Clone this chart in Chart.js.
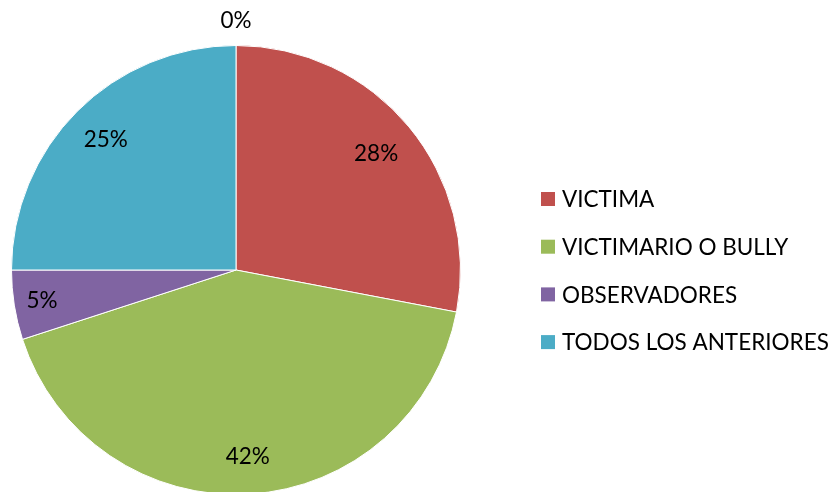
<!DOCTYPE html>
<html lang="es">
<head>
  <meta charset="UTF-8">
  <title>Roles en el bullying</title>
  <style>
    html, body { margin: 0; padding: 0; background: #fff; overflow: hidden; }
    #wrap { width: 830px; height: 500px; }
  </style>
</head>
<body>
<div id="wrap"><canvas id="myChart" width="830" height="500"></canvas></div>

<script src="https://cdn.jsdelivr.net/npm/chart.js"></script>
<script>
  // datos del grafico
  var categorias = ['', 'VICTIMA', 'VICTIMARIO O BULLY', 'OBSERVADORES', 'TODOS LOS ANTERIORES'];
  var porcentajes = [0, 28, 42, 5, 25];
  var colores = ['#4F81BD', '#C0504D', '#9BBB59', '#8064A2', '#4BACC6'];

  var fuente = "Lato, 'Noto Sans', sans-serif";

  // etiquetas de porcentaje sobre cada porcion
  var etiquetasPlugin = {
    id: 'etiquetas',
    afterDatasetsDraw: function(chart) {
      var ctx = chart.ctx;
      var meta = chart.getDatasetMeta(0);
      // distancia al centro (fraccion del radio), como el "mejor ajuste" de Excel
      var dist = [1.11, 0.81, 0.835, 0.875, 0.82];
      ctx.save();
      ctx.fillStyle = '#000';
      ctx.font = '22.5px ' + fuente;
      ctx.textAlign = 'center';
      ctx.textBaseline = 'middle';
      meta.data.forEach(function(arc, i) {
        var v = porcentajes[i];
        var p = arc.getProps(['x', 'y', 'startAngle', 'endAngle', 'outerRadius'], true);
        var mid = (p.startAngle + p.endAngle) / 2;
        var r = p.outerRadius * dist[i];
        ctx.fillText(v + '%', p.x + Math.cos(mid) * r, p.y + Math.sin(mid) * r);
      });
      ctx.restore();
    }
  };

  // leyenda a la derecha, dibujada a mano
  var leyendaPlugin = {
    id: 'leyenda',
    afterDraw: function(chart) {
      var ctx = chart.ctx;
      var ds = chart.data.datasets[0];
      var y = 199;
      ctx.save();
      ctx.font = '22.5px ' + fuente;
      ctx.textBaseline = 'middle';
      chart.data.labels.forEach(function(lab, i) {
        if (!lab) return;
        ctx.fillStyle = ds.backgroundColor[i];
        ctx.fillRect(541, y - 7, 14, 14);
        ctx.fillStyle = '#000';
        ctx.fillText(lab, 562, y + 1);
        y += 47.7;
      });
      ctx.restore();
    }
  };

  var ctx = document.getElementById('myChart').getContext('2d');
  var myChart = new Chart(ctx, {
    type: 'pie',
    data: {
      labels: categorias,
      datasets: [{
        data: porcentajes,
        backgroundColor: colores,
        borderColor: '#ffffff',
        borderWidth: 1
      }]
    },
    options: {
      responsive: false,
      animation: false,
      layout: {
        padding: { left: 11, right: 369, top: 45, bottom: 5 }
      },
      plugins: {
        legend: { display: false },
        tooltip: { enabled: false }
      }
    },
    plugins: [etiquetasPlugin, leyendaPlugin]
  });
</script>
</body>
</html>
